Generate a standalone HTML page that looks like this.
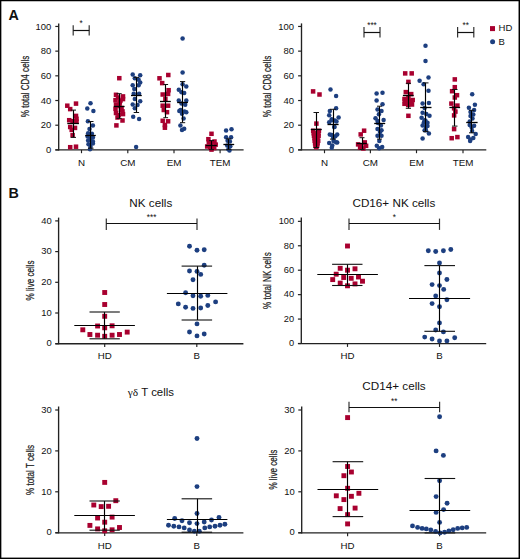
<!DOCTYPE html>
<html><head><meta charset="utf-8"><title>Figure</title>
<style>html,body{margin:0;padding:0;background:#fff;}body{width:520px;height:559px;overflow:hidden;}svg{display:block;}</style></head><body>
<svg width="520" height="559" viewBox="0 0 520 559" font-family='"Liberation Sans", sans-serif' fill="#111">
<rect x="0" y="0" width="520" height="559" fill="#fff"/>
<text x="8.40" y="19.90" font-size="14.3" text-anchor="start" font-weight="bold">A</text>
<text x="8.40" y="197.80" font-size="14.3" text-anchor="start" font-weight="bold">B</text>
<line x1="58.70" y1="23.40" x2="58.70" y2="150.40" stroke="#222" stroke-width="1.35"/>
<line x1="55.30" y1="149.90" x2="58.70" y2="149.90" stroke="#222" stroke-width="1.2"/>
<text transform="translate(51.30,153.17) scale(1.1,1)" font-size="8.6" text-anchor="end">0</text>
<line x1="55.30" y1="125.21" x2="58.70" y2="125.21" stroke="#222" stroke-width="1.2"/>
<text transform="translate(51.30,128.48) scale(1.1,1)" font-size="8.6" text-anchor="end">20</text>
<line x1="55.30" y1="100.52" x2="58.70" y2="100.52" stroke="#222" stroke-width="1.2"/>
<text transform="translate(51.30,103.79) scale(1.1,1)" font-size="8.6" text-anchor="end">40</text>
<line x1="55.30" y1="75.83" x2="58.70" y2="75.83" stroke="#222" stroke-width="1.2"/>
<text transform="translate(51.30,79.10) scale(1.1,1)" font-size="8.6" text-anchor="end">60</text>
<line x1="55.30" y1="51.14" x2="58.70" y2="51.14" stroke="#222" stroke-width="1.2"/>
<text transform="translate(51.30,54.41) scale(1.1,1)" font-size="8.6" text-anchor="end">80</text>
<line x1="55.30" y1="26.45" x2="58.70" y2="26.45" stroke="#222" stroke-width="1.2"/>
<text transform="translate(51.30,29.72) scale(1.1,1)" font-size="8.6" text-anchor="end">100</text>
<line x1="55.40" y1="149.90" x2="243.60" y2="149.90" stroke="#222" stroke-width="1.35"/>
<line x1="81.50" y1="149.90" x2="81.50" y2="153.20" stroke="#222" stroke-width="1.15"/>
<line x1="127.80" y1="149.90" x2="127.80" y2="153.20" stroke="#222" stroke-width="1.15"/>
<line x1="174.00" y1="149.90" x2="174.00" y2="153.20" stroke="#222" stroke-width="1.15"/>
<line x1="220.10" y1="149.90" x2="220.10" y2="153.20" stroke="#222" stroke-width="1.15"/>
<text x="81.50" y="165.53" font-size="9.8" text-anchor="middle" >N</text>
<text x="127.80" y="165.53" font-size="9.8" text-anchor="middle" >CM</text>
<text x="174.00" y="165.53" font-size="9.8" text-anchor="middle" >EM</text>
<text x="220.10" y="165.53" font-size="9.8" text-anchor="middle" >TEM</text>
<text transform="translate(24.60,86.50) rotate(-90) scale(0.75,1)" x="0" y="3.89" font-size="10.8" text-anchor="middle" stroke="#333" stroke-width="0.25">% total CD4 cells</text>
<line x1="301.50" y1="23.40" x2="301.50" y2="150.40" stroke="#222" stroke-width="1.35"/>
<line x1="298.10" y1="149.90" x2="301.50" y2="149.90" stroke="#222" stroke-width="1.2"/>
<text transform="translate(294.10,153.17) scale(1.1,1)" font-size="8.6" text-anchor="end">0</text>
<line x1="298.10" y1="125.21" x2="301.50" y2="125.21" stroke="#222" stroke-width="1.2"/>
<text transform="translate(294.10,128.48) scale(1.1,1)" font-size="8.6" text-anchor="end">20</text>
<line x1="298.10" y1="100.52" x2="301.50" y2="100.52" stroke="#222" stroke-width="1.2"/>
<text transform="translate(294.10,103.79) scale(1.1,1)" font-size="8.6" text-anchor="end">40</text>
<line x1="298.10" y1="75.83" x2="301.50" y2="75.83" stroke="#222" stroke-width="1.2"/>
<text transform="translate(294.10,79.10) scale(1.1,1)" font-size="8.6" text-anchor="end">60</text>
<line x1="298.10" y1="51.14" x2="301.50" y2="51.14" stroke="#222" stroke-width="1.2"/>
<text transform="translate(294.10,54.41) scale(1.1,1)" font-size="8.6" text-anchor="end">80</text>
<line x1="298.10" y1="26.45" x2="301.50" y2="26.45" stroke="#222" stroke-width="1.2"/>
<text transform="translate(294.10,29.72) scale(1.1,1)" font-size="8.6" text-anchor="end">100</text>
<line x1="298.10" y1="149.90" x2="486.30" y2="149.90" stroke="#222" stroke-width="1.35"/>
<line x1="324.50" y1="149.90" x2="324.50" y2="153.20" stroke="#222" stroke-width="1.15"/>
<line x1="370.40" y1="149.90" x2="370.40" y2="153.20" stroke="#222" stroke-width="1.15"/>
<line x1="416.50" y1="149.90" x2="416.50" y2="153.20" stroke="#222" stroke-width="1.15"/>
<line x1="463.00" y1="149.90" x2="463.00" y2="153.20" stroke="#222" stroke-width="1.15"/>
<text x="324.50" y="165.53" font-size="9.8" text-anchor="middle" >N</text>
<text x="370.40" y="165.53" font-size="9.8" text-anchor="middle" >CM</text>
<text x="416.50" y="165.53" font-size="9.8" text-anchor="middle" >EM</text>
<text x="463.00" y="165.53" font-size="9.8" text-anchor="middle" >TEM</text>
<text transform="translate(267.20,86.50) rotate(-90) scale(0.75,1)" x="0" y="3.89" font-size="10.8" text-anchor="middle" stroke="#333" stroke-width="0.25">% total CD8 cells</text>
<rect x="65.05" y="103.45" width="4.5" height="4.5" fill="#a8002f"/>
<rect x="73.75" y="101.35" width="4.5" height="4.5" fill="#a8002f"/>
<rect x="67.95" y="106.85" width="4.5" height="4.5" fill="#a8002f"/>
<rect x="73.75" y="113.65" width="4.5" height="4.5" fill="#a8002f"/>
<rect x="74.25" y="116.55" width="4.5" height="4.5" fill="#a8002f"/>
<rect x="66.95" y="117.95" width="4.5" height="4.5" fill="#a8002f"/>
<rect x="70.35" y="118.95" width="4.5" height="4.5" fill="#a8002f"/>
<rect x="74.25" y="119.35" width="4.5" height="4.5" fill="#a8002f"/>
<rect x="67.95" y="124.75" width="4.5" height="4.5" fill="#a8002f"/>
<rect x="72.75" y="125.65" width="4.5" height="4.5" fill="#a8002f"/>
<rect x="69.45" y="127.65" width="4.5" height="4.5" fill="#a8002f"/>
<rect x="70.35" y="132.95" width="4.5" height="4.5" fill="#a8002f"/>
<rect x="67.95" y="144.95" width="4.5" height="4.5" fill="#a8002f"/>
<rect x="73.75" y="144.45" width="4.5" height="4.5" fill="#a8002f"/>
<circle cx="90.50" cy="103.30" r="2.25" fill="#1d3f80"/>
<circle cx="87.30" cy="108.60" r="2.25" fill="#1d3f80"/>
<circle cx="93.40" cy="111.00" r="2.25" fill="#1d3f80"/>
<circle cx="87.90" cy="121.20" r="2.25" fill="#1d3f80"/>
<circle cx="92.90" cy="125.50" r="2.25" fill="#1d3f80"/>
<circle cx="89.50" cy="128.90" r="2.25" fill="#1d3f80"/>
<circle cx="88.10" cy="133.20" r="2.25" fill="#1d3f80"/>
<circle cx="91.90" cy="133.70" r="2.25" fill="#1d3f80"/>
<circle cx="87.60" cy="136.60" r="2.25" fill="#1d3f80"/>
<circle cx="92.90" cy="137.60" r="2.25" fill="#1d3f80"/>
<circle cx="88.10" cy="140.50" r="2.25" fill="#1d3f80"/>
<circle cx="92.90" cy="141.40" r="2.25" fill="#1d3f80"/>
<circle cx="88.50" cy="144.30" r="2.25" fill="#1d3f80"/>
<circle cx="92.90" cy="143.40" r="2.25" fill="#1d3f80"/>
<circle cx="90.50" cy="146.70" r="2.25" fill="#1d3f80"/>
<circle cx="90.00" cy="149.20" r="2.25" fill="#1d3f80"/>
<circle cx="90.50" cy="138.50" r="2.25" fill="#1d3f80"/>
<rect x="115.75" y="95.25" width="4.5" height="4.5" fill="#a8002f"/>
<rect x="118.75" y="107.75" width="4.5" height="4.5" fill="#a8002f"/>
<rect x="115.25" y="115.25" width="4.5" height="4.5" fill="#a8002f"/>
<rect x="118.25" y="98.25" width="4.5" height="4.5" fill="#a8002f"/>
<rect x="117.05" y="75.95" width="4.5" height="4.5" fill="#a8002f"/>
<rect x="113.75" y="92.55" width="4.5" height="4.5" fill="#a8002f"/>
<rect x="120.75" y="94.15" width="4.5" height="4.5" fill="#a8002f"/>
<rect x="113.25" y="97.95" width="4.5" height="4.5" fill="#a8002f"/>
<rect x="120.75" y="96.85" width="4.5" height="4.5" fill="#a8002f"/>
<rect x="117.55" y="100.05" width="4.5" height="4.5" fill="#a8002f"/>
<rect x="113.25" y="106.55" width="4.5" height="4.5" fill="#a8002f"/>
<rect x="120.25" y="109.15" width="4.5" height="4.5" fill="#a8002f"/>
<rect x="113.75" y="110.75" width="4.5" height="4.5" fill="#a8002f"/>
<rect x="120.75" y="111.85" width="4.5" height="4.5" fill="#a8002f"/>
<rect x="116.45" y="112.95" width="4.5" height="4.5" fill="#a8002f"/>
<rect x="120.25" y="118.25" width="4.5" height="4.5" fill="#a8002f"/>
<rect x="114.15" y="123.15" width="4.5" height="4.5" fill="#a8002f"/>
<rect x="117.25" y="103.75" width="4.5" height="4.5" fill="#a8002f"/>
<rect x="113.75" y="102.25" width="4.5" height="4.5" fill="#a8002f"/>
<rect x="119.25" y="105.75" width="4.5" height="4.5" fill="#a8002f"/>
<circle cx="132.70" cy="74.40" r="2.25" fill="#1d3f80"/>
<circle cx="140.20" cy="75.30" r="2.25" fill="#1d3f80"/>
<circle cx="134.80" cy="78.20" r="2.25" fill="#1d3f80"/>
<circle cx="138.60" cy="79.80" r="2.25" fill="#1d3f80"/>
<circle cx="140.20" cy="82.50" r="2.25" fill="#1d3f80"/>
<circle cx="132.70" cy="85.20" r="2.25" fill="#1d3f80"/>
<circle cx="138.60" cy="85.20" r="2.25" fill="#1d3f80"/>
<circle cx="134.30" cy="88.90" r="2.25" fill="#1d3f80"/>
<circle cx="133.70" cy="93.70" r="2.25" fill="#1d3f80"/>
<circle cx="139.10" cy="93.70" r="2.25" fill="#1d3f80"/>
<circle cx="134.80" cy="99.10" r="2.25" fill="#1d3f80"/>
<circle cx="140.20" cy="101.20" r="2.25" fill="#1d3f80"/>
<circle cx="132.70" cy="104.50" r="2.25" fill="#1d3f80"/>
<circle cx="137.50" cy="105.00" r="2.25" fill="#1d3f80"/>
<circle cx="134.80" cy="108.20" r="2.25" fill="#1d3f80"/>
<circle cx="133.20" cy="116.80" r="2.25" fill="#1d3f80"/>
<circle cx="139.10" cy="118.90" r="2.25" fill="#1d3f80"/>
<circle cx="136.10" cy="147.10" r="2.25" fill="#1d3f80"/>
<rect x="166.05" y="72.75" width="4.5" height="4.5" fill="#a8002f"/>
<rect x="157.25" y="76.05" width="4.5" height="4.5" fill="#a8002f"/>
<rect x="159.95" y="80.85" width="4.5" height="4.5" fill="#a8002f"/>
<rect x="166.35" y="87.95" width="4.5" height="4.5" fill="#a8002f"/>
<rect x="160.45" y="92.25" width="4.5" height="4.5" fill="#a8002f"/>
<rect x="165.85" y="91.65" width="4.5" height="4.5" fill="#a8002f"/>
<rect x="163.15" y="96.55" width="4.5" height="4.5" fill="#a8002f"/>
<rect x="160.45" y="103.45" width="4.5" height="4.5" fill="#a8002f"/>
<rect x="165.85" y="103.45" width="4.5" height="4.5" fill="#a8002f"/>
<rect x="161.55" y="107.75" width="4.5" height="4.5" fill="#a8002f"/>
<rect x="164.75" y="109.95" width="4.5" height="4.5" fill="#a8002f"/>
<rect x="160.45" y="118.55" width="4.5" height="4.5" fill="#a8002f"/>
<rect x="165.85" y="119.05" width="4.5" height="4.5" fill="#a8002f"/>
<rect x="162.65" y="122.75" width="4.5" height="4.5" fill="#a8002f"/>
<rect x="162.65" y="125.45" width="4.5" height="4.5" fill="#a8002f"/>
<circle cx="180.50" cy="110.00" r="2.25" fill="#1d3f80"/>
<circle cx="184.50" cy="111.50" r="2.25" fill="#1d3f80"/>
<circle cx="182.60" cy="38.60" r="2.25" fill="#1d3f80"/>
<circle cx="182.60" cy="72.40" r="2.25" fill="#1d3f80"/>
<circle cx="182.60" cy="84.30" r="2.25" fill="#1d3f80"/>
<circle cx="186.30" cy="86.40" r="2.25" fill="#1d3f80"/>
<circle cx="178.80" cy="89.70" r="2.25" fill="#1d3f80"/>
<circle cx="181.50" cy="92.30" r="2.25" fill="#1d3f80"/>
<circle cx="184.20" cy="92.90" r="2.25" fill="#1d3f80"/>
<circle cx="178.80" cy="100.40" r="2.25" fill="#1d3f80"/>
<circle cx="186.30" cy="100.40" r="2.25" fill="#1d3f80"/>
<circle cx="181.50" cy="103.60" r="2.25" fill="#1d3f80"/>
<circle cx="185.20" cy="104.70" r="2.25" fill="#1d3f80"/>
<circle cx="179.30" cy="111.10" r="2.25" fill="#1d3f80"/>
<circle cx="186.30" cy="112.20" r="2.25" fill="#1d3f80"/>
<circle cx="182.00" cy="113.80" r="2.25" fill="#1d3f80"/>
<circle cx="183.60" cy="118.60" r="2.25" fill="#1d3f80"/>
<circle cx="180.40" cy="125.60" r="2.25" fill="#1d3f80"/>
<circle cx="184.20" cy="128.80" r="2.25" fill="#1d3f80"/>
<circle cx="182.00" cy="129.90" r="2.25" fill="#1d3f80"/>
<rect x="209.25" y="131.55" width="4.5" height="4.5" fill="#a8002f"/>
<rect x="206.15" y="136.95" width="4.5" height="4.5" fill="#a8002f"/>
<rect x="212.25" y="139.25" width="4.5" height="4.5" fill="#a8002f"/>
<rect x="206.55" y="140.05" width="4.5" height="4.5" fill="#a8002f"/>
<rect x="209.25" y="140.85" width="4.5" height="4.5" fill="#a8002f"/>
<rect x="213.45" y="142.35" width="4.5" height="4.5" fill="#a8002f"/>
<rect x="204.95" y="144.25" width="4.5" height="4.5" fill="#a8002f"/>
<rect x="208.05" y="145.45" width="4.5" height="4.5" fill="#a8002f"/>
<rect x="211.95" y="145.85" width="4.5" height="4.5" fill="#a8002f"/>
<rect x="209.25" y="147.35" width="4.5" height="4.5" fill="#a8002f"/>
<circle cx="226.10" cy="130.40" r="2.25" fill="#1d3f80"/>
<circle cx="231.50" cy="129.20" r="2.25" fill="#1d3f80"/>
<circle cx="226.10" cy="137.30" r="2.25" fill="#1d3f80"/>
<circle cx="231.10" cy="137.30" r="2.25" fill="#1d3f80"/>
<circle cx="227.60" cy="140.80" r="2.25" fill="#1d3f80"/>
<circle cx="229.90" cy="141.50" r="2.25" fill="#1d3f80"/>
<circle cx="227.20" cy="145.40" r="2.25" fill="#1d3f80"/>
<circle cx="230.30" cy="146.20" r="2.25" fill="#1d3f80"/>
<circle cx="228.40" cy="149.20" r="2.25" fill="#1d3f80"/>
<circle cx="229.50" cy="150.40" r="2.25" fill="#1d3f80"/>
<rect x="310.85" y="89.15" width="4.5" height="4.5" fill="#a8002f"/>
<rect x="317.25" y="92.25" width="4.5" height="4.5" fill="#a8002f"/>
<rect x="314.15" y="121.35" width="4.5" height="4.5" fill="#a8002f"/>
<rect x="310.95" y="128.55" width="4.5" height="4.5" fill="#a8002f"/>
<rect x="316.65" y="128.55" width="4.5" height="4.5" fill="#a8002f"/>
<rect x="311.45" y="131.05" width="4.5" height="4.5" fill="#a8002f"/>
<rect x="316.05" y="131.05" width="4.5" height="4.5" fill="#a8002f"/>
<rect x="311.75" y="133.55" width="4.5" height="4.5" fill="#a8002f"/>
<rect x="316.35" y="133.55" width="4.5" height="4.5" fill="#a8002f"/>
<rect x="312.25" y="136.05" width="4.5" height="4.5" fill="#a8002f"/>
<rect x="315.35" y="136.05" width="4.5" height="4.5" fill="#a8002f"/>
<rect x="312.45" y="138.55" width="4.5" height="4.5" fill="#a8002f"/>
<rect x="315.95" y="138.55" width="4.5" height="4.5" fill="#a8002f"/>
<rect x="312.85" y="141.05" width="4.5" height="4.5" fill="#a8002f"/>
<rect x="315.35" y="141.05" width="4.5" height="4.5" fill="#a8002f"/>
<rect x="313.15" y="143.35" width="4.5" height="4.5" fill="#a8002f"/>
<rect x="314.95" y="143.35" width="4.5" height="4.5" fill="#a8002f"/>
<rect x="313.95" y="144.75" width="4.5" height="4.5" fill="#a8002f"/>
<rect x="313.95" y="144.75" width="4.5" height="4.5" fill="#a8002f"/>
<circle cx="331.70" cy="119.20" r="2.25" fill="#1d3f80"/>
<circle cx="334.80" cy="120.50" r="2.25" fill="#1d3f80"/>
<circle cx="334.20" cy="127.10" r="2.25" fill="#1d3f80"/>
<circle cx="331.70" cy="135.00" r="2.25" fill="#1d3f80"/>
<circle cx="335.40" cy="136.20" r="2.25" fill="#1d3f80"/>
<circle cx="333.50" cy="141.10" r="2.25" fill="#1d3f80"/>
<circle cx="336.00" cy="142.30" r="2.25" fill="#1d3f80"/>
<circle cx="332.30" cy="145.40" r="2.25" fill="#1d3f80"/>
<circle cx="330.50" cy="89.40" r="2.25" fill="#1d3f80"/>
<circle cx="336.10" cy="96.10" r="2.25" fill="#1d3f80"/>
<circle cx="336.10" cy="108.20" r="2.25" fill="#1d3f80"/>
<circle cx="329.80" cy="110.90" r="2.25" fill="#1d3f80"/>
<circle cx="329.20" cy="115.20" r="2.25" fill="#1d3f80"/>
<circle cx="338.60" cy="117.60" r="2.25" fill="#1d3f80"/>
<circle cx="332.50" cy="120.30" r="2.25" fill="#1d3f80"/>
<circle cx="336.50" cy="121.60" r="2.25" fill="#1d3f80"/>
<circle cx="329.20" cy="122.30" r="2.25" fill="#1d3f80"/>
<circle cx="334.50" cy="127.00" r="2.25" fill="#1d3f80"/>
<circle cx="329.80" cy="134.40" r="2.25" fill="#1d3f80"/>
<circle cx="337.20" cy="134.40" r="2.25" fill="#1d3f80"/>
<circle cx="333.20" cy="137.70" r="2.25" fill="#1d3f80"/>
<circle cx="329.20" cy="143.10" r="2.25" fill="#1d3f80"/>
<circle cx="337.20" cy="142.40" r="2.25" fill="#1d3f80"/>
<circle cx="331.80" cy="147.80" r="2.25" fill="#1d3f80"/>
<rect x="361.85" y="128.45" width="4.5" height="4.5" fill="#a8002f"/>
<rect x="358.45" y="132.15" width="4.5" height="4.5" fill="#a8002f"/>
<rect x="362.55" y="140.15" width="4.5" height="4.5" fill="#a8002f"/>
<rect x="355.85" y="142.15" width="4.5" height="4.5" fill="#a8002f"/>
<rect x="359.15" y="143.55" width="4.5" height="4.5" fill="#a8002f"/>
<rect x="363.85" y="143.55" width="4.5" height="4.5" fill="#a8002f"/>
<rect x="357.85" y="145.55" width="4.5" height="4.5" fill="#a8002f"/>
<rect x="361.15" y="146.25" width="4.5" height="4.5" fill="#a8002f"/>
<circle cx="379.20" cy="148.30" r="2.25" fill="#1d3f80"/>
<circle cx="378.00" cy="123.00" r="2.25" fill="#1d3f80"/>
<circle cx="380.00" cy="132.00" r="2.25" fill="#1d3f80"/>
<circle cx="376.60" cy="93.40" r="2.25" fill="#1d3f80"/>
<circle cx="382.50" cy="92.80" r="2.25" fill="#1d3f80"/>
<circle cx="376.60" cy="100.40" r="2.25" fill="#1d3f80"/>
<circle cx="382.50" cy="104.20" r="2.25" fill="#1d3f80"/>
<circle cx="377.50" cy="109.50" r="2.25" fill="#1d3f80"/>
<circle cx="381.50" cy="110.90" r="2.25" fill="#1d3f80"/>
<circle cx="378.90" cy="114.20" r="2.25" fill="#1d3f80"/>
<circle cx="375.50" cy="118.30" r="2.25" fill="#1d3f80"/>
<circle cx="383.60" cy="120.00" r="2.25" fill="#1d3f80"/>
<circle cx="377.50" cy="120.90" r="2.25" fill="#1d3f80"/>
<circle cx="380.90" cy="125.60" r="2.25" fill="#1d3f80"/>
<circle cx="377.50" cy="129.00" r="2.25" fill="#1d3f80"/>
<circle cx="381.50" cy="130.30" r="2.25" fill="#1d3f80"/>
<circle cx="377.50" cy="135.70" r="2.25" fill="#1d3f80"/>
<circle cx="381.50" cy="135.70" r="2.25" fill="#1d3f80"/>
<circle cx="379.30" cy="141.10" r="2.25" fill="#1d3f80"/>
<circle cx="376.80" cy="145.80" r="2.25" fill="#1d3f80"/>
<circle cx="382.20" cy="147.10" r="2.25" fill="#1d3f80"/>
<rect x="402.75" y="98.75" width="4.5" height="4.5" fill="#a8002f"/>
<rect x="409.25" y="98.75" width="4.5" height="4.5" fill="#a8002f"/>
<rect x="405.95" y="102.75" width="4.5" height="4.5" fill="#a8002f"/>
<rect x="402.25" y="101.55" width="4.5" height="4.5" fill="#a8002f"/>
<rect x="409.75" y="102.25" width="4.5" height="4.5" fill="#a8002f"/>
<rect x="405.75" y="97.25" width="4.5" height="4.5" fill="#a8002f"/>
<rect x="402.95" y="71.15" width="4.5" height="4.5" fill="#a8002f"/>
<rect x="409.45" y="71.15" width="4.5" height="4.5" fill="#a8002f"/>
<rect x="406.15" y="79.65" width="4.5" height="4.5" fill="#a8002f"/>
<rect x="403.55" y="89.85" width="4.5" height="4.5" fill="#a8002f"/>
<rect x="408.95" y="91.85" width="4.5" height="4.5" fill="#a8002f"/>
<rect x="402.25" y="96.75" width="4.5" height="4.5" fill="#a8002f"/>
<rect x="406.15" y="95.45" width="4.5" height="4.5" fill="#a8002f"/>
<rect x="410.45" y="97.75" width="4.5" height="4.5" fill="#a8002f"/>
<rect x="404.55" y="100.75" width="4.5" height="4.5" fill="#a8002f"/>
<rect x="408.55" y="101.35" width="4.5" height="4.5" fill="#a8002f"/>
<rect x="406.15" y="113.55" width="4.5" height="4.5" fill="#a8002f"/>
<circle cx="426.30" cy="113.90" r="2.25" fill="#1d3f80"/>
<circle cx="424.60" cy="120.20" r="2.25" fill="#1d3f80"/>
<circle cx="425.90" cy="127.00" r="2.25" fill="#1d3f80"/>
<circle cx="423.80" cy="122.70" r="2.25" fill="#1d3f80"/>
<circle cx="427.50" cy="126.00" r="2.25" fill="#1d3f80"/>
<circle cx="425.90" cy="130.30" r="2.25" fill="#1d3f80"/>
<circle cx="425.50" cy="45.80" r="2.25" fill="#1d3f80"/>
<circle cx="425.50" cy="61.00" r="2.25" fill="#1d3f80"/>
<circle cx="428.50" cy="77.40" r="2.25" fill="#1d3f80"/>
<circle cx="419.60" cy="80.70" r="2.25" fill="#1d3f80"/>
<circle cx="423.60" cy="84.30" r="2.25" fill="#1d3f80"/>
<circle cx="428.50" cy="90.80" r="2.25" fill="#1d3f80"/>
<circle cx="422.60" cy="103.60" r="2.25" fill="#1d3f80"/>
<circle cx="428.90" cy="103.00" r="2.25" fill="#1d3f80"/>
<circle cx="424.60" cy="107.90" r="2.25" fill="#1d3f80"/>
<circle cx="422.60" cy="112.80" r="2.25" fill="#1d3f80"/>
<circle cx="429.50" cy="115.80" r="2.25" fill="#1d3f80"/>
<circle cx="421.60" cy="117.80" r="2.25" fill="#1d3f80"/>
<circle cx="425.50" cy="120.70" r="2.25" fill="#1d3f80"/>
<circle cx="427.50" cy="122.70" r="2.25" fill="#1d3f80"/>
<circle cx="422.60" cy="125.60" r="2.25" fill="#1d3f80"/>
<circle cx="424.60" cy="130.20" r="2.25" fill="#1d3f80"/>
<circle cx="428.90" cy="133.50" r="2.25" fill="#1d3f80"/>
<circle cx="422.60" cy="138.40" r="2.25" fill="#1d3f80"/>
<rect x="452.55" y="77.15" width="4.5" height="4.5" fill="#a8002f"/>
<rect x="452.55" y="84.95" width="4.5" height="4.5" fill="#a8002f"/>
<rect x="449.85" y="88.95" width="4.5" height="4.5" fill="#a8002f"/>
<rect x="454.75" y="92.95" width="4.5" height="4.5" fill="#a8002f"/>
<rect x="452.55" y="95.25" width="4.5" height="4.5" fill="#a8002f"/>
<rect x="449.15" y="101.35" width="4.5" height="4.5" fill="#a8002f"/>
<rect x="455.15" y="103.35" width="4.5" height="4.5" fill="#a8002f"/>
<rect x="451.85" y="106.05" width="4.5" height="4.5" fill="#a8002f"/>
<rect x="453.15" y="109.35" width="4.5" height="4.5" fill="#a8002f"/>
<rect x="451.85" y="113.15" width="4.5" height="4.5" fill="#a8002f"/>
<rect x="451.85" y="126.85" width="4.5" height="4.5" fill="#a8002f"/>
<rect x="449.45" y="135.95" width="4.5" height="4.5" fill="#a8002f"/>
<rect x="455.15" y="134.85" width="4.5" height="4.5" fill="#a8002f"/>
<circle cx="472.20" cy="94.20" r="2.25" fill="#1d3f80"/>
<circle cx="474.90" cy="104.80" r="2.25" fill="#1d3f80"/>
<circle cx="468.90" cy="107.70" r="2.25" fill="#1d3f80"/>
<circle cx="474.10" cy="110.10" r="2.25" fill="#1d3f80"/>
<circle cx="470.50" cy="112.10" r="2.25" fill="#1d3f80"/>
<circle cx="473.30" cy="114.50" r="2.25" fill="#1d3f80"/>
<circle cx="470.50" cy="116.10" r="2.25" fill="#1d3f80"/>
<circle cx="472.50" cy="118.50" r="2.25" fill="#1d3f80"/>
<circle cx="469.70" cy="121.40" r="2.25" fill="#1d3f80"/>
<circle cx="469.70" cy="125.00" r="2.25" fill="#1d3f80"/>
<circle cx="474.10" cy="125.80" r="2.25" fill="#1d3f80"/>
<circle cx="471.70" cy="127.40" r="2.25" fill="#1d3f80"/>
<circle cx="472.10" cy="131.00" r="2.25" fill="#1d3f80"/>
<circle cx="475.70" cy="133.90" r="2.25" fill="#1d3f80"/>
<circle cx="468.10" cy="137.10" r="2.25" fill="#1d3f80"/>
<circle cx="470.50" cy="139.50" r="2.25" fill="#1d3f80"/>
<circle cx="473.30" cy="137.90" r="2.25" fill="#1d3f80"/>
<circle cx="470.10" cy="141.10" r="2.25" fill="#1d3f80"/>
<line x1="73.50" y1="110.10" x2="73.50" y2="137.40" stroke="#000" stroke-width="1.15"/>
<line x1="70.70" y1="110.10" x2="76.00" y2="110.10" stroke="#111" stroke-width="1.0"/>
<line x1="70.70" y1="137.40" x2="76.00" y2="137.40" stroke="#111" stroke-width="1.0"/>
<line x1="67.30" y1="123.50" x2="78.90" y2="123.50" stroke="#000" stroke-width="1.3"/>
<line x1="90.50" y1="121.50" x2="90.50" y2="148.20" stroke="#000" stroke-width="1.15"/>
<line x1="88.00" y1="121.50" x2="93.50" y2="121.50" stroke="#111" stroke-width="1.0"/>
<line x1="88.00" y1="148.20" x2="93.50" y2="148.20" stroke="#111" stroke-width="1.0"/>
<line x1="85.20" y1="135.50" x2="95.80" y2="135.50" stroke="#000" stroke-width="1.3"/>
<line x1="119.50" y1="93.70" x2="119.50" y2="118.40" stroke="#000" stroke-width="1.15"/>
<line x1="116.60" y1="93.70" x2="121.70" y2="93.70" stroke="#111" stroke-width="1.0"/>
<line x1="116.60" y1="118.40" x2="121.70" y2="118.40" stroke="#111" stroke-width="1.0"/>
<line x1="113.90" y1="106.50" x2="124.60" y2="106.50" stroke="#000" stroke-width="1.3"/>
<line x1="136.50" y1="77.40" x2="136.50" y2="112.50" stroke="#000" stroke-width="1.15"/>
<line x1="133.70" y1="77.40" x2="139.10" y2="77.40" stroke="#111" stroke-width="1.0"/>
<line x1="133.70" y1="112.50" x2="139.10" y2="112.50" stroke="#111" stroke-width="1.0"/>
<line x1="131.00" y1="95.50" x2="141.80" y2="95.50" stroke="#000" stroke-width="1.3"/>
<line x1="165.50" y1="84.50" x2="165.50" y2="117.70" stroke="#000" stroke-width="1.15"/>
<line x1="163.30" y1="84.50" x2="168.10" y2="84.50" stroke="#111" stroke-width="1.0"/>
<line x1="163.30" y1="117.70" x2="168.10" y2="117.70" stroke="#111" stroke-width="1.0"/>
<line x1="160.00" y1="101.50" x2="170.80" y2="101.50" stroke="#000" stroke-width="1.3"/>
<line x1="182.50" y1="81.60" x2="182.50" y2="122.70" stroke="#000" stroke-width="1.15"/>
<line x1="180.00" y1="81.60" x2="185.20" y2="81.60" stroke="#111" stroke-width="1.0"/>
<line x1="180.00" y1="122.70" x2="185.20" y2="122.70" stroke="#111" stroke-width="1.0"/>
<line x1="177.20" y1="102.50" x2="187.90" y2="102.50" stroke="#000" stroke-width="1.3"/>
<line x1="211.50" y1="140.60" x2="211.50" y2="149.60" stroke="#000" stroke-width="1.15"/>
<line x1="209.00" y1="140.60" x2="214.00" y2="140.60" stroke="#111" stroke-width="1.0"/>
<line x1="209.00" y1="149.60" x2="214.00" y2="149.60" stroke="#111" stroke-width="1.0"/>
<line x1="205.70" y1="145.50" x2="216.80" y2="145.50" stroke="#000" stroke-width="1.3"/>
<line x1="228.50" y1="138.80" x2="228.50" y2="149.60" stroke="#000" stroke-width="1.15"/>
<line x1="226.20" y1="138.80" x2="231.40" y2="138.80" stroke="#111" stroke-width="1.0"/>
<line x1="226.20" y1="149.60" x2="231.40" y2="149.60" stroke="#111" stroke-width="1.0"/>
<line x1="223.40" y1="144.50" x2="234.20" y2="144.50" stroke="#000" stroke-width="1.3"/>
<line x1="316.50" y1="112.50" x2="316.50" y2="147.50" stroke="#000" stroke-width="1.15"/>
<line x1="313.50" y1="112.50" x2="319.00" y2="112.50" stroke="#111" stroke-width="1.0"/>
<line x1="313.50" y1="147.50" x2="319.00" y2="147.50" stroke="#111" stroke-width="1.0"/>
<line x1="310.80" y1="129.50" x2="321.80" y2="129.50" stroke="#000" stroke-width="1.3"/>
<line x1="333.50" y1="109.30" x2="333.50" y2="139.10" stroke="#000" stroke-width="1.15"/>
<line x1="330.00" y1="109.30" x2="336.00" y2="109.30" stroke="#111" stroke-width="1.0"/>
<line x1="330.00" y1="139.10" x2="336.00" y2="139.10" stroke="#111" stroke-width="1.0"/>
<line x1="327.50" y1="124.50" x2="338.60" y2="124.50" stroke="#000" stroke-width="1.3"/>
<line x1="362.50" y1="137.70" x2="362.50" y2="149.50" stroke="#000" stroke-width="1.15"/>
<line x1="359.50" y1="137.70" x2="364.50" y2="137.70" stroke="#111" stroke-width="1.0"/>
<line x1="359.50" y1="149.50" x2="364.50" y2="149.50" stroke="#111" stroke-width="1.0"/>
<line x1="356.70" y1="143.50" x2="366.80" y2="143.50" stroke="#000" stroke-width="1.3"/>
<line x1="379.50" y1="106.20" x2="379.50" y2="139.10" stroke="#000" stroke-width="1.15"/>
<line x1="377.00" y1="106.20" x2="382.00" y2="106.20" stroke="#111" stroke-width="1.0"/>
<line x1="377.00" y1="139.10" x2="382.00" y2="139.10" stroke="#111" stroke-width="1.0"/>
<line x1="374.20" y1="123.50" x2="385.20" y2="123.50" stroke="#000" stroke-width="1.3"/>
<line x1="408.50" y1="83.30" x2="408.50" y2="108.30" stroke="#000" stroke-width="1.15"/>
<line x1="405.80" y1="83.30" x2="411.00" y2="83.30" stroke="#111" stroke-width="1.0"/>
<line x1="405.80" y1="108.30" x2="411.00" y2="108.30" stroke="#111" stroke-width="1.0"/>
<line x1="402.90" y1="95.50" x2="413.70" y2="95.50" stroke="#000" stroke-width="1.3"/>
<line x1="425.50" y1="82.90" x2="425.50" y2="131.60" stroke="#000" stroke-width="1.15"/>
<line x1="423.00" y1="82.90" x2="428.50" y2="82.90" stroke="#111" stroke-width="1.0"/>
<line x1="423.00" y1="131.60" x2="428.50" y2="131.60" stroke="#111" stroke-width="1.0"/>
<line x1="420.20" y1="107.50" x2="431.50" y2="107.50" stroke="#000" stroke-width="1.3"/>
<line x1="454.50" y1="89.50" x2="454.50" y2="126.10" stroke="#000" stroke-width="1.15"/>
<line x1="452.00" y1="89.50" x2="457.50" y2="89.50" stroke="#111" stroke-width="1.0"/>
<line x1="452.00" y1="126.10" x2="457.50" y2="126.10" stroke="#111" stroke-width="1.0"/>
<line x1="449.40" y1="107.50" x2="460.10" y2="107.50" stroke="#000" stroke-width="1.3"/>
<line x1="471.50" y1="110.30" x2="471.50" y2="132.80" stroke="#000" stroke-width="1.15"/>
<line x1="469.00" y1="110.30" x2="474.50" y2="110.30" stroke="#111" stroke-width="1.0"/>
<line x1="469.00" y1="132.80" x2="474.50" y2="132.80" stroke="#111" stroke-width="1.0"/>
<line x1="466.20" y1="122.50" x2="477.60" y2="122.50" stroke="#000" stroke-width="1.3"/>
<line x1="73.20" y1="25.20" x2="73.20" y2="35.40" stroke="#333" stroke-width="1.2"/>
<line x1="89.20" y1="25.20" x2="89.20" y2="35.40" stroke="#333" stroke-width="1.2"/>
<line x1="73.20" y1="30.50" x2="89.20" y2="30.50" stroke="#111" stroke-width="1.2"/>
<text x="81.20" y="26.00" font-size="8.2" text-anchor="middle" >*</text>
<line x1="364.00" y1="27.10" x2="364.00" y2="37.50" stroke="#333" stroke-width="1.2"/>
<line x1="380.00" y1="27.10" x2="380.00" y2="37.50" stroke="#333" stroke-width="1.2"/>
<line x1="364.00" y1="32.50" x2="380.00" y2="32.50" stroke="#111" stroke-width="1.2"/>
<text x="372.00" y="27.80" font-size="8.2" text-anchor="middle" >***</text>
<line x1="457.60" y1="27.10" x2="457.60" y2="37.50" stroke="#333" stroke-width="1.2"/>
<line x1="473.80" y1="27.10" x2="473.80" y2="37.50" stroke="#333" stroke-width="1.2"/>
<line x1="457.60" y1="32.50" x2="473.80" y2="32.50" stroke="#111" stroke-width="1.2"/>
<text x="465.70" y="27.80" font-size="8.2" text-anchor="middle" >**</text>
<rect x="490.00" y="26.10" width="5" height="5" fill="#a8002f"/>
<text x="498.60" y="31.40" font-size="9.5" text-anchor="start" >HD</text>
<circle cx="492.60" cy="41.70" r="2.50" fill="#1d3f80"/>
<text x="498.60" y="44.70" font-size="9.5" text-anchor="start" >B</text>
<line x1="58.60" y1="217.60" x2="58.60" y2="344.20" stroke="#222" stroke-width="1.35"/>
<line x1="55.20" y1="343.70" x2="58.60" y2="343.70" stroke="#222" stroke-width="1.2"/>
<text transform="translate(51.70,346.49) scale(1.05,1)" font-size="9" text-anchor="end">0</text>
<line x1="55.20" y1="313.00" x2="58.60" y2="313.00" stroke="#222" stroke-width="1.2"/>
<text transform="translate(51.70,315.79) scale(1.05,1)" font-size="9" text-anchor="end">10</text>
<line x1="55.20" y1="282.30" x2="58.60" y2="282.30" stroke="#222" stroke-width="1.2"/>
<text transform="translate(51.70,285.09) scale(1.05,1)" font-size="9" text-anchor="end">20</text>
<line x1="55.20" y1="251.60" x2="58.60" y2="251.60" stroke="#222" stroke-width="1.2"/>
<text transform="translate(51.70,254.39) scale(1.05,1)" font-size="9" text-anchor="end">30</text>
<line x1="55.20" y1="220.90" x2="58.60" y2="220.90" stroke="#222" stroke-width="1.2"/>
<text transform="translate(51.70,223.69) scale(1.05,1)" font-size="9" text-anchor="end">40</text>
<line x1="55.40" y1="343.70" x2="243.40" y2="343.70" stroke="#222" stroke-width="1.35"/>
<line x1="104.70" y1="343.70" x2="104.70" y2="347.00" stroke="#222" stroke-width="1.15"/>
<line x1="196.80" y1="343.70" x2="196.80" y2="347.00" stroke="#222" stroke-width="1.15"/>
<text x="104.70" y="359.09" font-size="9.7" text-anchor="middle" >HD</text>
<text x="196.80" y="359.09" font-size="9.7" text-anchor="middle" >B</text>
<text transform="translate(29.60,280.40) rotate(-90) scale(0.75,1)" x="0" y="3.89" font-size="10.8" text-anchor="middle" stroke="#333" stroke-width="0.25">% live cells</text>
<text x="150.80" y="206.80" font-size="11.7" text-anchor="middle" >NK cells</text>
<line x1="106.30" y1="218.60" x2="106.30" y2="230.00" stroke="#333" stroke-width="1.2"/>
<line x1="197.00" y1="218.60" x2="197.00" y2="230.00" stroke="#333" stroke-width="1.2"/>
<line x1="106.30" y1="223.50" x2="197.00" y2="223.50" stroke="#111" stroke-width="1.2"/>
<text x="151.65" y="219.50" font-size="8.2" text-anchor="middle" >***</text>
<line x1="301.30" y1="217.60" x2="301.30" y2="344.10" stroke="#222" stroke-width="1.35"/>
<line x1="297.90" y1="343.50" x2="301.30" y2="343.50" stroke="#222" stroke-width="1.2"/>
<text transform="translate(294.10,346.29) scale(1.03,1)" font-size="9" text-anchor="end">0</text>
<line x1="297.90" y1="319.07" x2="301.30" y2="319.07" stroke="#222" stroke-width="1.2"/>
<text transform="translate(294.10,321.86) scale(1.03,1)" font-size="9" text-anchor="end">20</text>
<line x1="297.90" y1="294.64" x2="301.30" y2="294.64" stroke="#222" stroke-width="1.2"/>
<text transform="translate(294.10,297.43) scale(1.03,1)" font-size="9" text-anchor="end">40</text>
<line x1="297.90" y1="270.21" x2="301.30" y2="270.21" stroke="#222" stroke-width="1.2"/>
<text transform="translate(294.10,273.00) scale(1.03,1)" font-size="9" text-anchor="end">60</text>
<line x1="297.90" y1="245.78" x2="301.30" y2="245.78" stroke="#222" stroke-width="1.2"/>
<text transform="translate(294.10,248.57) scale(1.03,1)" font-size="9" text-anchor="end">80</text>
<line x1="297.90" y1="221.35" x2="301.30" y2="221.35" stroke="#222" stroke-width="1.2"/>
<text transform="translate(294.10,224.14) scale(1.03,1)" font-size="9" text-anchor="end">100</text>
<line x1="298.20" y1="343.60" x2="486.20" y2="343.60" stroke="#222" stroke-width="1.35"/>
<line x1="347.50" y1="343.60" x2="347.50" y2="346.90" stroke="#222" stroke-width="1.15"/>
<line x1="439.50" y1="343.60" x2="439.50" y2="346.90" stroke="#222" stroke-width="1.15"/>
<text x="347.50" y="359.09" font-size="9.7" text-anchor="middle" >HD</text>
<text x="439.50" y="359.09" font-size="9.7" text-anchor="middle" >B</text>
<text transform="translate(267.10,280.60) rotate(-90) scale(0.75,1)" x="0" y="3.89" font-size="10.8" text-anchor="middle" stroke="#333" stroke-width="0.25">% total NK cells</text>
<text x="393.90" y="206.80" font-size="11.7" text-anchor="middle" >CD16+ NK cells</text>
<line x1="349.00" y1="218.60" x2="349.00" y2="229.90" stroke="#333" stroke-width="1.2"/>
<line x1="439.50" y1="218.60" x2="439.50" y2="229.90" stroke="#333" stroke-width="1.2"/>
<line x1="349.00" y1="223.50" x2="439.50" y2="223.50" stroke="#111" stroke-width="1.2"/>
<text x="394.25" y="219.50" font-size="8.2" text-anchor="middle" >*</text>
<line x1="58.60" y1="406.50" x2="58.60" y2="533.30" stroke="#222" stroke-width="1.35"/>
<line x1="55.20" y1="532.70" x2="58.60" y2="532.70" stroke="#222" stroke-width="1.2"/>
<text transform="translate(51.70,535.49) scale(1.05,1)" font-size="9" text-anchor="end">0</text>
<line x1="55.20" y1="491.80" x2="58.60" y2="491.80" stroke="#222" stroke-width="1.2"/>
<text transform="translate(51.70,494.59) scale(1.05,1)" font-size="9" text-anchor="end">10</text>
<line x1="55.20" y1="450.90" x2="58.60" y2="450.90" stroke="#222" stroke-width="1.2"/>
<text transform="translate(51.70,453.69) scale(1.05,1)" font-size="9" text-anchor="end">20</text>
<line x1="55.20" y1="410.00" x2="58.60" y2="410.00" stroke="#222" stroke-width="1.2"/>
<text transform="translate(51.70,412.79) scale(1.05,1)" font-size="9" text-anchor="end">30</text>
<line x1="55.40" y1="532.80" x2="243.40" y2="532.80" stroke="#222" stroke-width="1.35"/>
<line x1="104.70" y1="532.80" x2="104.70" y2="536.10" stroke="#222" stroke-width="1.15"/>
<line x1="196.80" y1="532.80" x2="196.80" y2="536.10" stroke="#222" stroke-width="1.15"/>
<text x="104.70" y="548.79" font-size="9.7" text-anchor="middle" >HD</text>
<text x="196.80" y="548.79" font-size="9.7" text-anchor="middle" >B</text>
<text transform="translate(29.60,469.90) rotate(-90) scale(0.75,1)" x="0" y="3.89" font-size="10.8" text-anchor="middle" stroke="#333" stroke-width="0.25">% total T cells</text>
<text x="150.80" y="396.30" font-size="11.4" text-anchor="middle" ><tspan font-family="Liberation Serif">&#947;&#948;</tspan> T cells</text>
<line x1="301.70" y1="406.50" x2="301.70" y2="533.40" stroke="#222" stroke-width="1.35"/>
<line x1="298.30" y1="532.70" x2="301.70" y2="532.70" stroke="#222" stroke-width="1.2"/>
<text transform="translate(294.80,535.49) scale(1.05,1)" font-size="9" text-anchor="end">0</text>
<line x1="298.30" y1="491.80" x2="301.70" y2="491.80" stroke="#222" stroke-width="1.2"/>
<text transform="translate(294.80,494.59) scale(1.05,1)" font-size="9" text-anchor="end">10</text>
<line x1="298.30" y1="450.90" x2="301.70" y2="450.90" stroke="#222" stroke-width="1.2"/>
<text transform="translate(294.80,453.69) scale(1.05,1)" font-size="9" text-anchor="end">20</text>
<line x1="298.30" y1="410.00" x2="301.70" y2="410.00" stroke="#222" stroke-width="1.2"/>
<text transform="translate(294.80,412.79) scale(1.05,1)" font-size="9" text-anchor="end">30</text>
<line x1="298.20" y1="532.90" x2="486.20" y2="532.90" stroke="#222" stroke-width="1.35"/>
<line x1="347.60" y1="532.90" x2="347.60" y2="536.20" stroke="#222" stroke-width="1.15"/>
<line x1="439.60" y1="532.90" x2="439.60" y2="536.20" stroke="#222" stroke-width="1.15"/>
<text x="347.60" y="548.79" font-size="9.7" text-anchor="middle" >HD</text>
<text x="439.60" y="548.79" font-size="9.7" text-anchor="middle" >B</text>
<text transform="translate(272.60,469.60) rotate(-90) scale(0.75,1)" x="0" y="3.89" font-size="10.8" text-anchor="middle" stroke="#333" stroke-width="0.25">% live cells</text>
<text x="394.00" y="389.90" font-size="11.7" text-anchor="middle" >CD14+ cells</text>
<line x1="349.00" y1="401.80" x2="349.00" y2="412.20" stroke="#333" stroke-width="1.2"/>
<line x1="439.60" y1="401.80" x2="439.60" y2="412.20" stroke="#333" stroke-width="1.2"/>
<line x1="349.00" y1="407.50" x2="439.60" y2="407.50" stroke="#111" stroke-width="1.2"/>
<text x="394.30" y="403.60" font-size="8.2" text-anchor="middle" >**</text>
<rect x="102.25" y="290.05" width="4.9" height="4.9" fill="#a8002f"/>
<rect x="102.25" y="302.05" width="4.9" height="4.9" fill="#a8002f"/>
<rect x="102.25" y="313.85" width="4.9" height="4.9" fill="#a8002f"/>
<rect x="95.15" y="323.55" width="4.9" height="4.9" fill="#a8002f"/>
<rect x="109.65" y="323.35" width="4.9" height="4.9" fill="#a8002f"/>
<rect x="102.25" y="325.35" width="4.9" height="4.9" fill="#a8002f"/>
<rect x="80.35" y="327.35" width="4.9" height="4.9" fill="#a8002f"/>
<rect x="87.45" y="332.05" width="4.9" height="4.9" fill="#a8002f"/>
<rect x="95.15" y="332.75" width="4.9" height="4.9" fill="#a8002f"/>
<rect x="102.25" y="333.85" width="4.9" height="4.9" fill="#a8002f"/>
<rect x="109.65" y="332.75" width="4.9" height="4.9" fill="#a8002f"/>
<rect x="117.05" y="332.05" width="4.9" height="4.9" fill="#a8002f"/>
<rect x="124.75" y="329.65" width="4.9" height="4.9" fill="#a8002f"/>
<circle cx="189.50" cy="246.30" r="2.45" fill="#1d3f80"/>
<circle cx="197.00" cy="250.20" r="2.45" fill="#1d3f80"/>
<circle cx="204.20" cy="249.80" r="2.45" fill="#1d3f80"/>
<circle cx="204.20" cy="265.20" r="2.45" fill="#1d3f80"/>
<circle cx="189.50" cy="271.00" r="2.45" fill="#1d3f80"/>
<circle cx="197.00" cy="271.40" r="2.45" fill="#1d3f80"/>
<circle cx="200.70" cy="274.40" r="2.45" fill="#1d3f80"/>
<circle cx="193.00" cy="279.70" r="2.45" fill="#1d3f80"/>
<circle cx="185.60" cy="292.70" r="2.45" fill="#1d3f80"/>
<circle cx="193.00" cy="295.80" r="2.45" fill="#1d3f80"/>
<circle cx="200.70" cy="296.20" r="2.45" fill="#1d3f80"/>
<circle cx="207.80" cy="295.40" r="2.45" fill="#1d3f80"/>
<circle cx="215.60" cy="301.90" r="2.45" fill="#1d3f80"/>
<circle cx="178.30" cy="303.90" r="2.45" fill="#1d3f80"/>
<circle cx="185.60" cy="307.20" r="2.45" fill="#1d3f80"/>
<circle cx="193.00" cy="308.40" r="2.45" fill="#1d3f80"/>
<circle cx="200.70" cy="308.00" r="2.45" fill="#1d3f80"/>
<circle cx="207.80" cy="305.50" r="2.45" fill="#1d3f80"/>
<circle cx="197.00" cy="323.90" r="2.45" fill="#1d3f80"/>
<circle cx="189.50" cy="332.00" r="2.45" fill="#1d3f80"/>
<circle cx="197.00" cy="335.90" r="2.45" fill="#1d3f80"/>
<circle cx="204.20" cy="334.00" r="2.45" fill="#1d3f80"/>
<rect x="345.05" y="243.55" width="4.9" height="4.9" fill="#a8002f"/>
<rect x="337.75" y="265.85" width="4.9" height="4.9" fill="#a8002f"/>
<rect x="345.05" y="267.75" width="4.9" height="4.9" fill="#a8002f"/>
<rect x="352.55" y="266.35" width="4.9" height="4.9" fill="#a8002f"/>
<rect x="333.75" y="271.75" width="4.9" height="4.9" fill="#a8002f"/>
<rect x="341.25" y="275.05" width="4.9" height="4.9" fill="#a8002f"/>
<rect x="348.75" y="275.85" width="4.9" height="4.9" fill="#a8002f"/>
<rect x="356.05" y="274.55" width="4.9" height="4.9" fill="#a8002f"/>
<rect x="330.25" y="277.15" width="4.9" height="4.9" fill="#a8002f"/>
<rect x="360.05" y="278.75" width="4.9" height="4.9" fill="#a8002f"/>
<rect x="337.75" y="280.65" width="4.9" height="4.9" fill="#a8002f"/>
<rect x="345.05" y="283.35" width="4.9" height="4.9" fill="#a8002f"/>
<rect x="352.55" y="281.45" width="4.9" height="4.9" fill="#a8002f"/>
<circle cx="428.30" cy="250.80" r="2.45" fill="#1d3f80"/>
<circle cx="435.70" cy="251.50" r="2.45" fill="#1d3f80"/>
<circle cx="443.40" cy="250.80" r="2.45" fill="#1d3f80"/>
<circle cx="450.80" cy="249.50" r="2.45" fill="#1d3f80"/>
<circle cx="439.50" cy="263.00" r="2.45" fill="#1d3f80"/>
<circle cx="439.50" cy="273.00" r="2.45" fill="#1d3f80"/>
<circle cx="446.90" cy="279.50" r="2.45" fill="#1d3f80"/>
<circle cx="432.10" cy="284.60" r="2.45" fill="#1d3f80"/>
<circle cx="439.50" cy="285.60" r="2.45" fill="#1d3f80"/>
<circle cx="443.70" cy="289.40" r="2.45" fill="#1d3f80"/>
<circle cx="435.70" cy="295.90" r="2.45" fill="#1d3f80"/>
<circle cx="446.90" cy="299.70" r="2.45" fill="#1d3f80"/>
<circle cx="432.10" cy="303.60" r="2.45" fill="#1d3f80"/>
<circle cx="439.50" cy="306.80" r="2.45" fill="#1d3f80"/>
<circle cx="439.50" cy="322.90" r="2.45" fill="#1d3f80"/>
<circle cx="435.70" cy="330.00" r="2.45" fill="#1d3f80"/>
<circle cx="443.40" cy="331.90" r="2.45" fill="#1d3f80"/>
<circle cx="424.70" cy="337.10" r="2.45" fill="#1d3f80"/>
<circle cx="432.10" cy="339.00" r="2.45" fill="#1d3f80"/>
<circle cx="439.50" cy="340.90" r="2.45" fill="#1d3f80"/>
<circle cx="446.90" cy="340.90" r="2.45" fill="#1d3f80"/>
<circle cx="454.70" cy="337.70" r="2.45" fill="#1d3f80"/>
<rect x="102.25" y="479.95" width="4.9" height="4.9" fill="#a8002f"/>
<rect x="113.35" y="498.25" width="4.9" height="4.9" fill="#a8002f"/>
<rect x="91.35" y="502.55" width="4.9" height="4.9" fill="#a8002f"/>
<rect x="98.75" y="504.15" width="4.9" height="4.9" fill="#a8002f"/>
<rect x="106.15" y="503.85" width="4.9" height="4.9" fill="#a8002f"/>
<rect x="95.15" y="515.55" width="4.9" height="4.9" fill="#a8002f"/>
<rect x="109.65" y="514.65" width="4.9" height="4.9" fill="#a8002f"/>
<rect x="102.25" y="519.75" width="4.9" height="4.9" fill="#a8002f"/>
<rect x="87.45" y="522.95" width="4.9" height="4.9" fill="#a8002f"/>
<rect x="95.15" y="526.45" width="4.9" height="4.9" fill="#a8002f"/>
<rect x="102.25" y="528.35" width="4.9" height="4.9" fill="#a8002f"/>
<rect x="109.65" y="527.35" width="4.9" height="4.9" fill="#a8002f"/>
<rect x="117.05" y="525.05" width="4.9" height="4.9" fill="#a8002f"/>
<circle cx="197.00" cy="438.50" r="2.45" fill="#1d3f80"/>
<circle cx="197.00" cy="486.60" r="2.45" fill="#1d3f80"/>
<circle cx="197.00" cy="513.50" r="2.45" fill="#1d3f80"/>
<circle cx="174.70" cy="518.50" r="2.45" fill="#1d3f80"/>
<circle cx="219.00" cy="517.50" r="2.45" fill="#1d3f80"/>
<circle cx="182.00" cy="520.80" r="2.45" fill="#1d3f80"/>
<circle cx="189.50" cy="522.80" r="2.45" fill="#1d3f80"/>
<circle cx="197.00" cy="523.60" r="2.45" fill="#1d3f80"/>
<circle cx="204.20" cy="522.00" r="2.45" fill="#1d3f80"/>
<circle cx="211.50" cy="520.00" r="2.45" fill="#1d3f80"/>
<circle cx="168.50" cy="525.30" r="2.45" fill="#1d3f80"/>
<circle cx="173.80" cy="526.30" r="2.45" fill="#1d3f80"/>
<circle cx="179.00" cy="526.90" r="2.45" fill="#1d3f80"/>
<circle cx="184.20" cy="527.90" r="2.45" fill="#1d3f80"/>
<circle cx="189.50" cy="529.90" r="2.45" fill="#1d3f80"/>
<circle cx="194.40" cy="531.20" r="2.45" fill="#1d3f80"/>
<circle cx="199.30" cy="531.20" r="2.45" fill="#1d3f80"/>
<circle cx="204.80" cy="527.90" r="2.45" fill="#1d3f80"/>
<circle cx="209.70" cy="526.90" r="2.45" fill="#1d3f80"/>
<circle cx="215.00" cy="526.30" r="2.45" fill="#1d3f80"/>
<circle cx="220.00" cy="525.30" r="2.45" fill="#1d3f80"/>
<circle cx="224.90" cy="524.30" r="2.45" fill="#1d3f80"/>
<rect x="345.15" y="415.15" width="4.9" height="4.9" fill="#a8002f"/>
<rect x="345.15" y="464.05" width="4.9" height="4.9" fill="#a8002f"/>
<rect x="348.95" y="469.55" width="4.9" height="4.9" fill="#a8002f"/>
<rect x="341.45" y="473.25" width="4.9" height="4.9" fill="#a8002f"/>
<rect x="345.15" y="485.85" width="4.9" height="4.9" fill="#a8002f"/>
<rect x="333.85" y="493.35" width="4.9" height="4.9" fill="#a8002f"/>
<rect x="341.45" y="497.15" width="4.9" height="4.9" fill="#a8002f"/>
<rect x="348.95" y="493.85" width="4.9" height="4.9" fill="#a8002f"/>
<rect x="356.45" y="490.85" width="4.9" height="4.9" fill="#a8002f"/>
<rect x="337.65" y="506.15" width="4.9" height="4.9" fill="#a8002f"/>
<rect x="352.65" y="505.65" width="4.9" height="4.9" fill="#a8002f"/>
<rect x="345.15" y="512.15" width="4.9" height="4.9" fill="#a8002f"/>
<rect x="345.15" y="521.45" width="4.9" height="4.9" fill="#a8002f"/>
<circle cx="439.60" cy="416.80" r="2.45" fill="#1d3f80"/>
<circle cx="436.10" cy="450.90" r="2.45" fill="#1d3f80"/>
<circle cx="443.40" cy="455.40" r="2.45" fill="#1d3f80"/>
<circle cx="439.60" cy="480.80" r="2.45" fill="#1d3f80"/>
<circle cx="436.10" cy="496.60" r="2.45" fill="#1d3f80"/>
<circle cx="447.10" cy="503.30" r="2.45" fill="#1d3f80"/>
<circle cx="443.60" cy="509.60" r="2.45" fill="#1d3f80"/>
<circle cx="436.10" cy="512.40" r="2.45" fill="#1d3f80"/>
<circle cx="439.60" cy="522.40" r="2.45" fill="#1d3f80"/>
<circle cx="412.50" cy="525.90" r="2.45" fill="#1d3f80"/>
<circle cx="417.60" cy="527.40" r="2.45" fill="#1d3f80"/>
<circle cx="422.10" cy="528.40" r="2.45" fill="#1d3f80"/>
<circle cx="426.30" cy="528.90" r="2.45" fill="#1d3f80"/>
<circle cx="430.80" cy="529.90" r="2.45" fill="#1d3f80"/>
<circle cx="435.60" cy="531.40" r="2.45" fill="#1d3f80"/>
<circle cx="440.10" cy="532.90" r="2.45" fill="#1d3f80"/>
<circle cx="444.60" cy="532.20" r="2.45" fill="#1d3f80"/>
<circle cx="448.90" cy="530.90" r="2.45" fill="#1d3f80"/>
<circle cx="453.20" cy="529.70" r="2.45" fill="#1d3f80"/>
<circle cx="457.70" cy="528.40" r="2.45" fill="#1d3f80"/>
<circle cx="462.20" cy="527.90" r="2.45" fill="#1d3f80"/>
<circle cx="466.70" cy="527.40" r="2.45" fill="#1d3f80"/>
<line x1="104.50" y1="312.00" x2="104.50" y2="338.80" stroke="#000" stroke-width="1.15"/>
<line x1="89.50" y1="312.00" x2="119.80" y2="312.00" stroke="#111" stroke-width="1.1"/>
<line x1="89.50" y1="338.80" x2="119.80" y2="338.80" stroke="#111" stroke-width="1.1"/>
<line x1="74.30" y1="325.50" x2="134.90" y2="325.50" stroke="#000" stroke-width="1.2"/>
<line x1="197.50" y1="266.10" x2="197.50" y2="320.00" stroke="#000" stroke-width="1.15"/>
<line x1="181.60" y1="266.10" x2="212.10" y2="266.10" stroke="#111" stroke-width="1.1"/>
<line x1="181.60" y1="320.00" x2="212.10" y2="320.00" stroke="#111" stroke-width="1.1"/>
<line x1="166.90" y1="293.50" x2="227.40" y2="293.50" stroke="#000" stroke-width="1.2"/>
<line x1="347.50" y1="264.30" x2="347.50" y2="285.50" stroke="#000" stroke-width="1.15"/>
<line x1="332.10" y1="264.30" x2="362.50" y2="264.30" stroke="#111" stroke-width="1.1"/>
<line x1="332.10" y1="285.50" x2="362.50" y2="285.50" stroke="#111" stroke-width="1.1"/>
<line x1="317.30" y1="274.50" x2="377.90" y2="274.50" stroke="#000" stroke-width="1.2"/>
<line x1="439.50" y1="265.60" x2="439.50" y2="331.30" stroke="#000" stroke-width="1.15"/>
<line x1="424.40" y1="265.60" x2="455.00" y2="265.60" stroke="#111" stroke-width="1.1"/>
<line x1="424.40" y1="331.30" x2="455.00" y2="331.30" stroke="#111" stroke-width="1.1"/>
<line x1="409.00" y1="298.50" x2="470.10" y2="298.50" stroke="#000" stroke-width="1.2"/>
<line x1="104.50" y1="501.00" x2="104.50" y2="530.20" stroke="#000" stroke-width="1.15"/>
<line x1="89.50" y1="501.00" x2="119.80" y2="501.00" stroke="#111" stroke-width="1.1"/>
<line x1="89.50" y1="530.20" x2="119.80" y2="530.20" stroke="#111" stroke-width="1.1"/>
<line x1="74.30" y1="515.50" x2="134.90" y2="515.50" stroke="#000" stroke-width="1.2"/>
<line x1="197.50" y1="498.80" x2="197.50" y2="532.20" stroke="#000" stroke-width="1.15"/>
<line x1="181.60" y1="498.80" x2="212.10" y2="498.80" stroke="#111" stroke-width="1.1"/>
<line x1="181.60" y1="532.20" x2="212.10" y2="532.20" stroke="#111" stroke-width="1.1"/>
<line x1="166.90" y1="519.50" x2="227.40" y2="519.50" stroke="#000" stroke-width="1.2"/>
<line x1="347.50" y1="461.70" x2="347.50" y2="516.60" stroke="#000" stroke-width="1.15"/>
<line x1="332.60" y1="461.70" x2="363.20" y2="461.70" stroke="#111" stroke-width="1.1"/>
<line x1="332.60" y1="516.60" x2="363.20" y2="516.60" stroke="#111" stroke-width="1.1"/>
<line x1="317.50" y1="489.50" x2="378.20" y2="489.50" stroke="#000" stroke-width="1.2"/>
<line x1="439.50" y1="478.50" x2="439.50" y2="532.90" stroke="#000" stroke-width="1.15"/>
<line x1="424.60" y1="478.50" x2="455.20" y2="478.50" stroke="#111" stroke-width="1.1"/>
<line x1="424.60" y1="532.90" x2="455.20" y2="532.90" stroke="#111" stroke-width="1.1"/>
<line x1="409.50" y1="510.50" x2="470.20" y2="510.50" stroke="#000" stroke-width="1.2"/>
<rect x="0" y="0" width="1.35" height="559" fill="#000"/>
<rect x="0" y="0" width="520" height="1.25" fill="#000"/>
<rect x="518.55" y="0" width="1.45" height="559" fill="#000"/>
<rect x="0" y="557.6" width="520" height="1.4" fill="#000"/>
</svg>
</body></html>
